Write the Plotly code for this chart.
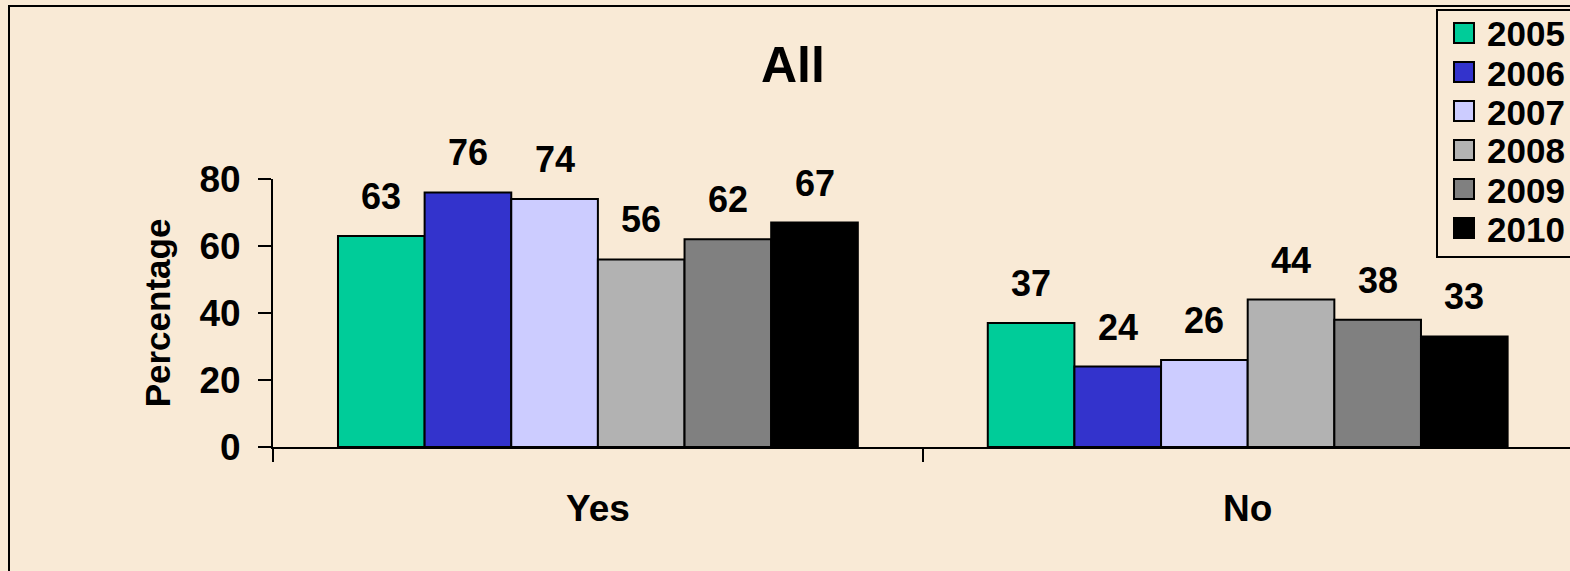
import plotly.graph_objects as go

# Survey answers by year, in percent
categories = ["Yes", "No"]
years = ["2005", "2006", "2007", "2008", "2009", "2010"]
values_2005 = [63, 37]
values_2006 = [76, 24]
values_2007 = [74, 26]
values_2008 = [56, 44]
values_2009 = [62, 38]
values_2010 = [67, 33]
series = [values_2005, values_2006, values_2007, values_2008, values_2009, values_2010]
colors = ["#00CC99", "#3333CC", "#CCCCFF", "#B2B2B2", "#808080", "#000000"]
y_ticks = [0, 20, 40, 60, 80]

W, H = 1570, 571
ML, MR, MT, MB = 273, 0, 179, 124
PW, PH = W - ML - MR, H - MT - MB
BG = "#F9EAD6"
FONT = "Liberation Sans, Arial, sans-serif"
BARGAP = 0.2

fig = go.Figure()
for year, vals, col in zip(years, series, colors):
    fig.add_trace(go.Bar(
        x=categories, y=vals, name=year,
        marker=dict(color=col, line=dict(color="black", width=2)),
        showlegend=False,
    ))

# value labels above each bar, placed at the bar's slot within its group
n = len(series)
slot = (1 - BARGAP) / n
annotations = []
for j, vals in enumerate(series):
    for i, v in enumerate(vals):
        annotations.append(dict(
            x=i - (1 - BARGAP) / 2 + (j + 0.5) * slot, y=v,
            xref="x", yref="y", text=f"<b>{v}</b>", showarrow=False,
            yanchor="bottom", yshift=17,
            font=dict(family=FONT, size=36, color="black"),
        ))

def px(xp, yp):
    # pixel position on the page -> shape/annotation "paper" (plot-area) fraction
    return (xp - ML) / PW, (H - MB - yp) / PH

# title
tx, ty = px(793, 65)
annotations.append(dict(x=tx, y=ty, xref="paper", yref="paper", text="<b>All</b>",
                        showarrow=False, xanchor="center", yanchor="middle",
                        font=dict(family=FONT, size=50, color="black")))

shapes = []
# outer frame
fx0, fy0 = px(9, 6)
fx1, fy1 = px(1600, 600)
shapes.append(dict(type="rect", xref="paper", yref="paper", x0=fx0, y0=fy1, x1=fx1, y1=fy0,
                   line=dict(color="black", width=2), fillcolor="rgba(0,0,0,0)", layer="above"))
# legend box
lx0, ly0 = px(1437, 10)
lx1, ly1 = px(1600, 257)
shapes.append(dict(type="rect", xref="paper", yref="paper", x0=lx0, y0=ly1, x1=lx1, y1=ly0,
                   line=dict(color="black", width=2), fillcolor=BG, layer="above"))
for k, (year, col) in enumerate(zip(years, colors)):
    cy = 33 + k * 39
    sx0, sy0 = px(1454, cy - 10)
    sx1, sy1 = px(1474, cy + 10)
    shapes.append(dict(type="rect", xref="paper", yref="paper", x0=sx0, y0=sy1, x1=sx1, y1=sy0,
                       line=dict(color="black", width=2), fillcolor=col, layer="above"))
    ax, ay = px(1485, cy + 1)
    annotations.append(dict(x=ax, y=ay, xref="paper", yref="paper", text=f"<b>{year}</b>",
                            showarrow=False, xanchor="left", yanchor="middle",
                            font=dict(family=FONT, size=35, color="black")))

fig.update_layout(
    width=W, height=H,
    margin=dict(l=ML, r=MR, t=MT, b=MB),
    paper_bgcolor=BG, plot_bgcolor=BG,
    barmode="group", bargap=BARGAP, bargroupgap=0,
    annotations=annotations, shapes=shapes,
    font=dict(family=FONT, color="black"),
)
fig.update_xaxes(
    range=[-0.5, 1.496],
    showline=True, linecolor="black", linewidth=2,
    ticks="outside", tickson="boundaries", ticklen=13, tickwidth=2, tickcolor="black",
    tickfont=dict(family=FONT, size=37, color="black"),
    ticklabelstandoff=28,
    tickvals=categories, ticktext=[f"<b>{c}</b>" for c in categories],
    showgrid=False, fixedrange=True,
)
fig.update_yaxes(
    range=[0, 80], tickvals=y_ticks, ticktext=[f"<b>{t}</b>" for t in y_ticks],
    showline=True, linecolor="black", linewidth=2,
    ticks="outside", ticklen=13, tickwidth=2, tickcolor="black",
    tickfont=dict(family=FONT, size=37, color="black"),
    ticklabelstandoff=10,
    showgrid=False, zeroline=False,
    title=dict(text="<b>Percentage</b>", font=dict(family=FONT, size=35, color="black"), standoff=18),
)

fig.write_html("out.html")
